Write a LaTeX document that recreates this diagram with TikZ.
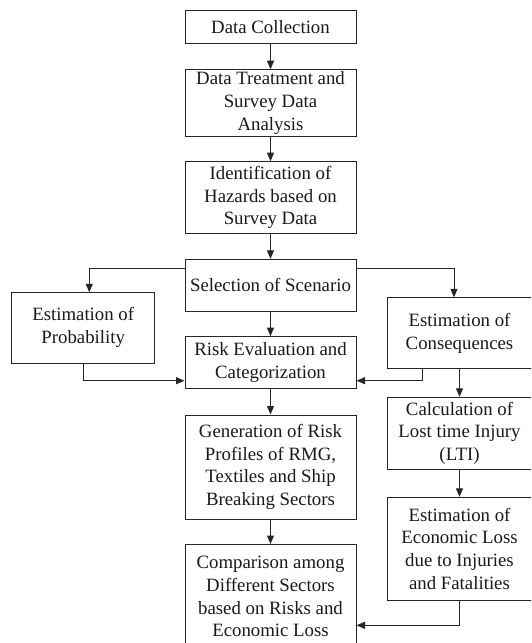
\documentclass[tikz,border=0pt]{standalone}
\usepackage{fontspec}
\setmainfont{Liberation Serif}
\usetikzlibrary{arrows.meta}
\begin{document}
\begin{tikzpicture}[x=1pt,y=-1pt,
  box/.style={draw=black!85, line width=1pt, rectangle, inner sep=0pt, align=center,
    text=black!90, font=\fontsize{18.8}{22.8}\selectfont},
  conn/.style={draw=black!85, line width=1pt, -{Triangle[length=8.5pt,width=7pt]}}]
\useasboundingbox (0,0) rectangle (531,643);
\clip (0,0) rectangle (531,643);
% main column
\node[box, minimum width=171pt, minimum height=33.7pt] (dc) at (270.5,26.9) {Data Collection};
\node[box, minimum width=171pt, minimum height=67pt] (dt) at (270.5,103.2) {Data Treatment and\\Survey Data\\Analysis};
\node[box, minimum width=171pt, minimum height=71.6pt] (ih) at (270.5,197.5) {Identification of\\Hazards based on\\Survey Data};
\node[box, minimum width=171pt, minimum height=52pt] (ss) at (270.5,285.3) {Selection of Scenario};
\node[box, minimum width=171pt, minimum height=52.3pt] (re) at (270.5,362.8) {Risk Evaluation and\\Categorization};
\node[box, minimum width=171pt, minimum height=104pt] (gen) at (270.5,467) {Generation of Risk\\Profiles of RMG,\\Textiles and Ship\\Breaking Sectors};
\node[box, minimum width=171pt, minimum height=104pt] (comp) at (270.5,596.5) {Comparison among\\Different Sectors\\based on Risks and\\Economic Loss};
% left
\node[box, minimum width=143pt, minimum height=71pt] (prob) at (83.2,327.8) {Estimation of\\Probability};
% right
\node[box, minimum width=145pt, minimum height=71.4pt] (cons) at (459.5,333) {Estimation of\\Consequences};
\node[box, minimum width=145pt, minimum height=71.7pt] (calc) at (459.5,433.2) {Calculation of\\Lost time Injury\\(LTI)};
\node[box, minimum width=145pt, minimum height=102.7pt] (econ) at (459.5,548.7) {Estimation of\\Economic Loss\\due to Injuries\\and Fatalities};
% helper coordinates
\coordinate (sl) at (185,268.3);
\coordinate (sr) at (356,268.3);
\coordinate (pt) at (89.3,292.3);
\coordinate (ct) at (454,297.3);
\coordinate (pb) at (83,363.3);
\coordinate (cb) at (422.7,368.7);
\coordinate (jn) at (0,380.7);
\coordinate (eb) at (459.3,625.3);
% connectors
\draw[conn] (dc) -- (dt);
\draw[conn] (dt) -- (ih);
\draw[conn] (ih) -- (ss);
\draw[conn] (ss) -- (re);
\draw[conn] (re) -- (gen);
\draw[conn] (gen) -- (comp);
\draw[conn] (sl) -| (pt);
\draw[conn] (sr) -| (ct);
\draw[conn] (pb) |- (re.west |- jn);
\draw[conn] (cb) |- (re.east |- jn);
\draw[conn] (cons.south -| calc.north) -- (calc.north);
\draw[conn] (calc) -- (econ);
\draw[conn] (econ.south) |- (comp.east |- eb);
\end{tikzpicture}
\end{document}
